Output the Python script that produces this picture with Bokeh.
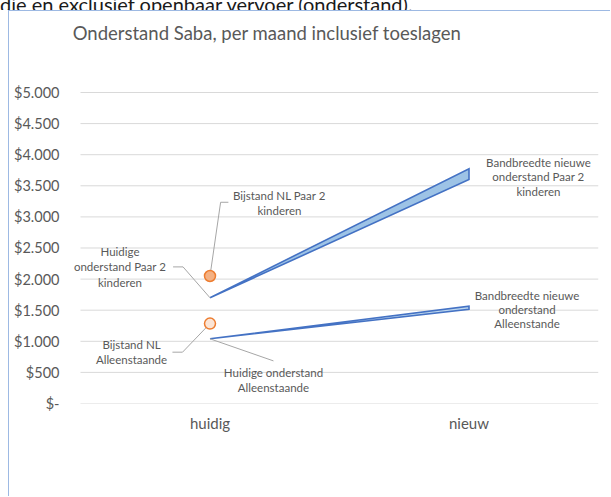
from bokeh.plotting import figure
from bokeh.models import Label, FixedTicker, Range1d, Div
from bokeh.layouts import column
from bokeh.embed import file_html
from bokeh.resources import INLINE

# ---- data ----
categories = ["huidig", "nieuw"]
paar_basis = [1700, 3600]       # onderstand Paar 2 kinderen (ondergrens)
paar_band = [0, 175]            # bandbreedte Paar 2 kinderen
alleen_basis = [1040, 1515]     # onderstand Alleenstaande (ondergrens)
alleen_band = [0, 50]           # bandbreedte Alleenstaande
bijstand_paar = [2050]          # Bijstand NL Paar 2 kinderen (huidig)
bijstand_alleen = [1285]        # Bijstand NL Alleenstaande (huidig)
y_ticks = [0, 500, 1000, 1500, 2000, 2500, 3000, 3500, 4000, 4500, 5000]
y_tick_labels = ["$-", "$500", "$1.000", "$1.500", "$2.000", "$2.500",
                 "$3.000", "$3.500", "$4.000", "$4.500", "$5.000"]
title_text = "Onderstand Saba, per maand inclusief toeslagen"
top_text = "die en exclusief openbaar vervoer (onderstand)."

FONT = "Lato"
GRAY = "#595959"
BLUE = "#4472C4"
ORANGE = "#ED7D31"
LEADER = "#A6A6A6"

# category centres on a numeric axis (0.5, 1.5)
x_pos = [i + 0.5 for i in range(len(categories))]
n_cat = len(categories)

p = figure(x_range=Range1d(-0.0386, n_cat), y_range=Range1d(0, 6286),
           width=602, height=486, output_backend="svg", toolbar_location=None,
           min_border_left=61, min_border_right=13, min_border_top=1,
           min_border_bottom=94, outline_line_color=None,
           background_fill_color="white", border_fill_color="white",
           styles={"border-left": "1px solid #9DB9E3",
                   "border-top": "1px solid #9DB9E3",
                   "margin-left": "8px"})

p.xgrid.grid_line_color = None
p.ygrid.grid_line_color = None

p.yaxis.ticker = FixedTicker(ticks=y_ticks)
p.yaxis.major_label_overrides = {t: l for t, l in zip(y_ticks, y_tick_labels)}
p.xaxis.ticker = FixedTicker(ticks=x_pos)
p.xaxis.major_label_overrides = {x: c for x, c in zip(x_pos, categories)}
for ax in (p.xaxis, p.yaxis):
    ax.axis_line_color = None
    ax.major_tick_line_color = None
    ax.minor_tick_line_color = None
    ax.major_label_text_color = GRAY
    ax.major_label_text_font = FONT
p.yaxis.major_label_text_font_size = "14.5px"
p.yaxis.major_label_standoff = 5
p.xaxis.major_label_text_font_size = "15px"
p.xaxis.major_label_standoff = 4

# horizontal gridlines across the category span
p.segment(x0=[0] * len(y_ticks), x1=[n_cat] * len(y_ticks),
          y0=y_ticks, y1=y_ticks, line_color="#D9D9D9", line_width=1)

# stacked area bands
def band(basis, bandw, fill):
    xs = [x_pos[0], x_pos[1], x_pos[1], x_pos[0]]
    ys = [basis[0], basis[1], basis[1] + bandw[1], basis[0] + bandw[0]]
    p.patch(xs, ys, fill_color=fill, line_color=BLUE, line_width=1.6,
            line_join="miter")

band(paar_basis, paar_band, "#9DC3E6")
band(alleen_basis, alleen_band, "#BDD7EE")

# leader lines (anchored at the data points)
x0 = x_pos[0]
p.line([x0, x0 + 0.041, x0 + 0.071], [bijstand_paar[0], 3235, 3235],
       line_color=LEADER, line_width=1)
p.line([x0 - 0.1425, x0 - 0.104, x0], [2196, 2196, paar_basis[0]],
       line_color=LEADER, line_width=1)
p.line([x0 - 0.145, x0 - 0.106, x0], [825, 825, bijstand_alleen[0]],
       line_color=LEADER, line_width=1)
p.line([x0, x0 + 0.245], [alleen_basis[0], 685],
       line_color=LEADER, line_width=1)

# Bijstand NL points
p.scatter([x0], bijstand_paar, size=11, fill_color="#F4B183",
          line_color=ORANGE, line_width=1.5)
p.scatter([x0], bijstand_alleen, size=11, fill_color="#FBE5D6",
          line_color=ORANGE, line_width=1.5)

def lab(x, y, t, size="11.5px", align="center"):
    p.add_layout(Label(x=x, y=y, text=t, text_align=align,
                       text_baseline="middle", text_font=FONT,
                       text_font_size=size, text_color=GRAY))

lab(-0.03, 5955, title_text, size="18.5px", align="left")

lab(0.768, 3349, "Bijstand NL Paar 2")
lab(0.768, 3108, "kinderen")
lab(0.1525, 2449, "Huidige")
lab(0.1525, 2196, "onderstand Paar 2")
lab(0.1525, 1950, "kinderen")
lab(0.197, 953, "Bijstand NL")
lab(0.197, 712, "Alleenstaande")
lab(0.745, 503, "Huidige onderstand")
lab(0.745, 262, "Alleenstaande")
lab(1.768, 3880, "Bandbreedte nieuwe")
lab(1.768, 3643, "onderstand Paar 2")
lab(1.768, 3402, "kinderen")
lab(1.724, 1741, "Bandbreedte nieuwe")
lab(1.724, 1516, "onderstand")
lab(1.724, 1286, "Alleenstande")

# partially visible line of body text above the chart (cut off, as in the source)
top = Div(text=('<div style="font-family:Lato;font-size:20px;color:#1a1a1a;'
                'line-height:20px;margin-top:-14px;white-space:nowrap">'
                + top_text + '</div>'),
          width=610, height=10, margin=0,
          styles={"overflow": "hidden"})

layout = column(top, p, spacing=0)
open("out.html", "w").write(file_html(layout, INLINE))
